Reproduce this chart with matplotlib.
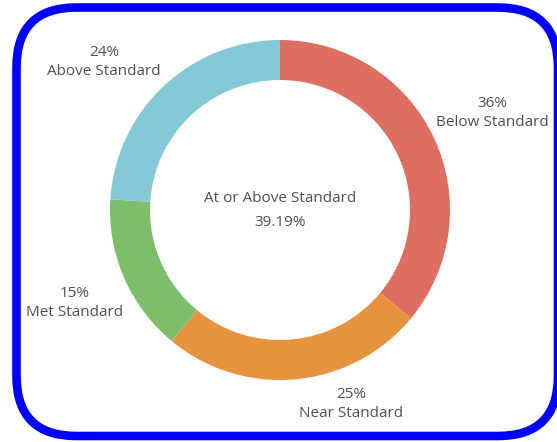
import matplotlib
matplotlib.use("Agg")
import matplotlib.pyplot as plt
from matplotlib.patches import FancyBboxPatch

# data
categories = ["Below Standard", "Near Standard", "Met Standard", "Above Standard"]
shares = [36, 25, 15, 24]
colors = ["#DF6E62", "#E5933F", "#7CBE69", "#84C8D6"]
center_title = "At or Above Standard"
center_value = "39.19%"

# label anchor points (pixels from top-left of the image)
label_pos = {
    "Below Standard": (492, 113),
    "Near Standard": (351, 404),
    "Met Standard": (75, 303),
    "Above Standard": (104, 62),
}

W, H = 557, 442
plt.rcParams["font.family"] = ["Open Sans", "DejaVu Sans"]
TXT = "#4F4F4F"
FS = 11

fig = plt.figure(figsize=(W / 100, H / 100), dpi=100)
ax = fig.add_axes([0, 0, 1, 1])

# donut, drawn clockwise from 12 o'clock
ax.pie(shares, colors=colors, startangle=90, counterclock=False,
       center=(280, H - 210), radius=170, frame=True,
       wedgeprops=dict(width=40, linewidth=0))

ax.text(280, H - 199, center_title, ha="center", va="center", fontsize=FS, color=TXT)
ax.text(280, H - 222, center_value, ha="center", va="center", fontsize=FS, color=TXT)

for name, pct in zip(categories, shares):
    x, y = label_pos[name]
    ax.text(x, H - y, f"{pct}%\n{name}", ha="center", va="center",
            fontsize=FS, color=TXT, linespacing=1.4)

# blue rounded frame, its right side sits on the picture edge
frame = FancyBboxPatch((16.5, H - 436), 558 - 16.5, 436 - 7.5,
                       boxstyle="round,pad=0,rounding_size=60",
                       facecolor="none", edgecolor="#0000FF", linewidth=6.2,
                       clip_on=False)
ax.add_patch(frame)

ax.set_xlim(0, W)
ax.set_ylim(0, H)
ax.set_aspect("auto")
ax.axis("off")

fig.savefig("out.png", dpi=100)
